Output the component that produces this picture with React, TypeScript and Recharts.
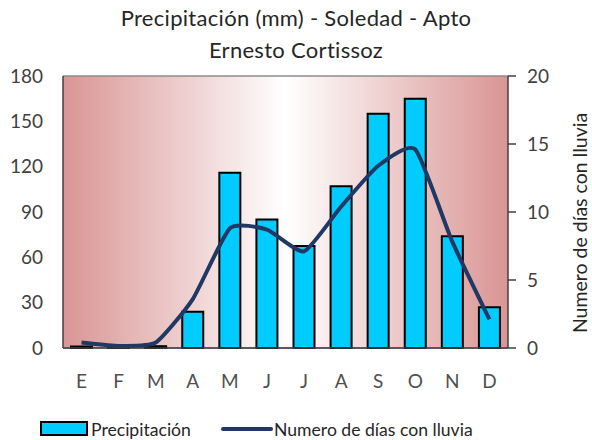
import React from "react";
import { ComposedChart, Bar, Line, XAxis, YAxis, CartesianGrid, Legend } from "recharts";

const months = ["E", "F", "M", "A", "M", "J", "J", "A", "S", "O", "N", "D"];
const precipitation = [1, 0.6, 1.2, 24, 116, 85, 67.5, 107, 155, 165, 74, 27];
const rainyDays = [0.4, 0.15, 0.4, 3.6, 8.8, 8.7, 7.1, 10.4, 13.4, 14.6, 7.8, 2.1];
const leftTicks = [0, 30, 60, 90, 120, 150, 180];
const rightTicks = [0, 5, 10, 15, 20];

const data = months.map((m, i) => ({ month: m, precip: precipitation[i], days: rainyDays[i] }));

const FONT = "Lato, 'Open Sans', sans-serif";
const TEXT = "#404040";

// Excel-like lightly smoothed line (bezier with small tension)
const smoothCurve = (context: any) => {
  let pts: [number, number][] = [];
  return {
    areaStart() {},
    areaEnd() {},
    lineStart() {
      pts = [];
    },
    point(x: number, y: number) {
      pts.push([+x, +y]);
    },
    lineEnd() {
      if (!pts.length) return;
      context.moveTo(pts[0][0], pts[0][1]);
      const t = 0.09;
      for (let i = 0; i < pts.length - 1; i++) {
        const p0 = pts[i - 1] || pts[i];
        const p1 = pts[i];
        const p2 = pts[i + 1];
        const p3 = pts[i + 2] || p2;
        const c1x = p1[0] + (p2[0] - p0[0]) * t;
        const c1y = p1[1] + (p2[1] - p0[1]) * t;
        const c2x = p2[0] - (p3[0] - p1[0]) * t;
        const c2y = p2[1] - (p3[1] - p1[1]) * t;
        context.bezierCurveTo(c1x, c1y, c2x, c2y, p2[0], p2[1]);
      }
    },
  };
};

const LegendContent = () => (
  <div style={{ position: "relative", width: 592, height: 40 }}>
    <svg width={592} height={40} style={{ position: "absolute", left: 0, top: 0 }}>
      <rect x={41} y={22} width={46} height={13} fill="#00ccff" stroke="#000" strokeWidth={2} />
      <line x1={223} y1={29} x2={271} y2={29} stroke="#1f3864" strokeWidth={4} strokeLinecap="round" />
      <text x={91} y={36} fontSize={17.6} fill="#262626" fontFamily={FONT}>Precipitación</text>
      <text x={274} y={36} fontSize={17.6} fill="#262626" fontFamily={FONT}>Numero de días con lluvia</text>
    </svg>
  </div>
);

const RightLabel = () => {
  const cy = 223;
  const cx = 579;
  return (
    <text
      x={cx}
      y={cy}
      transform={`rotate(-90 ${cx} ${cy})`}
      textAnchor="middle"
      dominantBaseline="central"
      fontSize={19.5}
      fill="#262626"
      fontFamily={FONT}
    >
      Numero de días con lluvia
    </text>
  );
};

export default function App() {
  return (
    <div style={{ position: "absolute", left: 0, top: 0, width: 592, height: 440, background: "#fff" }}>
      <div
        style={{
          position: "absolute",
          left: 0,
          top: 2,
          width: 592,
          textAlign: "center",
          fontFamily: FONT,
          fontSize: 22,
          letterSpacing: 0.3,
          color: "#262626",
          lineHeight: "32px",
        }}
      >
        <div>Precipitación (mm) - Soledad - Apto</div>
        <div>Ernesto Cortissoz</div>
      </div>
      <ComposedChart
        width={592}
        height={440}
        data={data}
        margin={{ top: 76, right: 0, bottom: 0, left: 0 }}
        barSize={21}
        style={{ position: "absolute", left: 0, top: 0 }}
      >
        <defs>
          <linearGradient id="bgGrad" x1="0" y1="0" x2="1" y2="0">
            <stop offset="0%" stopColor="#d99594" />
            <stop offset="50%" stopColor="#ffffff" />
            <stop offset="100%" stopColor="#d99594" />
          </linearGradient>
        </defs>
        <CartesianGrid vertical={false} fill="url(#bgGrad)" stroke="#8c8c8c" strokeWidth={1.5} />
        <XAxis
          dataKey="month"
          height={52}
          tickLine={false}
          axisLine={{ stroke: "#404040", strokeWidth: 1.5 }}
          tick={{ fill: "#505050", fontSize: 19, fontFamily: FONT }}
          tickMargin={21}
          interval={0}
        />
        <YAxis
          yAxisId="left"
          orientation="left"
          width={63}
          domain={[0, 180]}
          ticks={leftTicks}
          tickLine={false}
          tickSize={6}
          tickMargin={14}
          axisLine={{ stroke: "#404040", strokeWidth: 1.5 }}
          tick={{ fill: TEXT, fontSize: 19, fontFamily: FONT }}
          interval={0}
        />
        <YAxis
          yAxisId="right"
          orientation="right"
          width={84}
          domain={[0, 20]}
          ticks={rightTicks}
          tickSize={8}
          tickMargin={11}
          tickLine={{ stroke: "#404040", strokeWidth: 1.5 }}
          axisLine={{ stroke: "#404040", strokeWidth: 1.5 }}
          tick={{ fill: TEXT, fontSize: 19, fontFamily: FONT }}
          interval={0}
          label={<RightLabel />}
        />
        <Legend verticalAlign="bottom" height={40} content={<LegendContent />} />
        <Bar
          yAxisId="left"
          dataKey="precip"
          name="Precipitación"
          fill="#00ccff"
          stroke="#000"
          strokeWidth={2}
          isAnimationActive={false}
        />
        <Line
          yAxisId="right"
          dataKey="days"
          name="Numero de días con lluvia"
          type={smoothCurve as any}
          stroke="#1f3864"
          strokeWidth={4}
          dot={false}
          isAnimationActive={false}
        />
      </ComposedChart>
    </div>
  );
}
